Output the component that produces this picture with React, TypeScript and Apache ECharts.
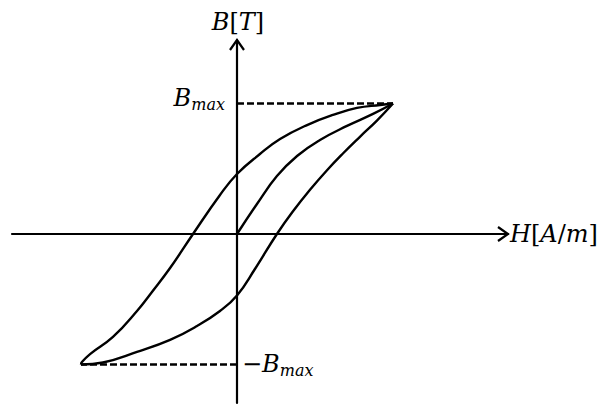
import React, { useEffect, useRef } from "react";
import * as echarts from "echarts";

// Magnetisation curves: H normalised to its peak value, B normalised to Bmax
const initialH = [0, 0.128, 0.256, 0.385, 0.532, 0.705, 0.872, 1];
const initialB = [0, 0.23, 0.444, 0.598, 0.72, 0.828, 0.92, 1];

const descendingH = [1, 0.917, 0.769, 0.615, 0.449, 0.276, 0.147, 0, -0.109, -0.282, -0.429, -0.545, -0.641, -0.795, -0.942, -0.994, -1];
const descendingB = [1, 0.989, 0.966, 0.912, 0.835, 0.728, 0.613, 0.46, 0.299, 0, -0.261, -0.444, -0.59, -0.789, -0.92, -0.981, -1];

const ascendingH = [-1, -0.859, -0.641, -0.429, -0.256, -0.109, 0, 0.115, 0.256, 0.359, 0.468, 0.577, 0.679, 0.788, 0.897, 1];
const ascendingB = [-1, -0.985, -0.904, -0.812, -0.705, -0.59, -0.471, -0.268, 0, 0.174, 0.339, 0.489, 0.617, 0.745, 0.869, 1];

// Saturation levels (+Bmax / -Bmax) reached at the loop tips
const tipH = [1, -1];
const tipB = [1, -1];

// Visible extent of the two axes
const hAxisRange = [-1.4423, 1.7372];
const bAxisRange = [-1.295, 1.4866];

// Axis titles and level labels
const hTitle = "{i|H}{r|[}{i|A}{r|/}{i|m}{r|]}";
const bTitle = "{i|B}{r|[}{i|T}{r|]}";
const levelSymbol = "B";
const levelSub = "max";
const minusSign = "\u2212";

const FONT = "'DejaVu Serif', 'Liberation Serif', serif";
const MAIN_SIZE = 24;
const SUB_SIZE = 16;

const zip = (xs: number[], ys: number[]) => xs.map((x, i) => [x, ys[i]]);

const measure = (text: string, italic: boolean, size: number) => {
  const ctx = document.createElement("canvas").getContext("2d");
  if (!ctx) return text.length * size * 0.6;
  ctx.font = `${italic ? "italic " : ""}${size}px ${FONT}`;
  return ctx.measureText(text).width;
};

const richStyles = {
  i: { fontFamily: FONT, fontStyle: "italic", fontSize: MAIN_SIZE, fill: "#000", lineHeight: 28 },
  r: { fontFamily: FONT, fontStyle: "normal", fontSize: MAIN_SIZE, fill: "#000", lineHeight: 28 },
};

export default function App() {
  const ref = useRef<HTMLDivElement>(null);

  useEffect(() => {
    document.body.style.margin = "0";
    if (!ref.current) return;
    const chart = echarts.init(ref.current, undefined, { renderer: "svg" });

    const curve = (name: string, xs: number[], ys: number[]) => ({
      name,
      type: "line",
      data: zip(xs, ys),
      showSymbol: false,
      smooth: 0.45,
      lineStyle: { color: "#000", width: 2.4 },
      z: 3,
    });

    const level = (name: string, h: number, b: number) => ({
      name,
      type: "line",
      data: [
        [0, b],
        [h, b],
      ],
      showSymbol: false,
      lineStyle: { color: "#000", width: 2.3, type: [7, 3] },
      z: 2,
    });

    const axisCommon = {
      type: "value",
      axisLine: { show: true, onZero: true, lineStyle: { color: "#000", width: 2.2 } },
      axisTick: { show: false },
      axisLabel: { show: false },
      splitLine: { show: false },
    };

    chart.setOption({
      animation: false,
      backgroundColor: "#fff",
      grid: { left: 12, right: 92, top: 40, bottom: 3, containLabel: false },
      xAxis: { ...axisCommon, min: hAxisRange[0], max: hAxisRange[1] },
      yAxis: { ...axisCommon, min: bAxisRange[0], max: bAxisRange[1] },
      series: [
        level("+Bmax", tipH[0], tipB[0]),
        level("-Bmax", tipH[1], tipB[1]),
        curve("initial", initialH, initialB),
        curve("descending", descendingH, descendingB),
        curve("ascending", ascendingH, ascendingB),
      ],
    });

    const px = (p: number[]) => chart.convertToPixel({ gridIndex: 0 }, p) as number[];
    const [ox, oy] = px([0, 0]);
    const [xEnd] = px([hAxisRange[1], 0]);
    const [, yEnd] = px([0, bAxisRange[1]]);
    const [, yPos] = px([0, tipB[0]]);
    const [, yNeg] = px([0, tipB[1]]);

    const arrowStyle = { stroke: "#000", lineWidth: 2.2, fill: "none", lineJoin: "miter" };
    const subW = measure(levelSub, true, SUB_SIZE);
    const minusW = measure(minusSign, false, MAIN_SIZE);
    const bW = measure(levelSymbol, true, MAIN_SIZE);

    const txt = (text: string, x: number, y: number, align: string, italic: boolean, size: number) => ({
      type: "text",
      x,
      y,
      z: 10,
      style: {
        text,
        fill: "#000",
        font: `${italic ? "italic " : ""}${size}px ${FONT}`,
        align,
        verticalAlign: "middle",
        textAlign: align,
        textVerticalAlign: "middle",
      },
    });

    const richTxt = (text: string, x: number, y: number, align: string) => ({
      type: "text",
      x,
      y,
      z: 10,
      style: {
        text,
        rich: richStyles,
        align,
        verticalAlign: "middle",
        textAlign: align,
        textVerticalAlign: "middle",
      },
    });

    chart.setOption({
      graphic: [
        { type: "polyline", z: 10, shape: { points: [[xEnd - 10, oy - 7], [xEnd, oy], [xEnd - 10, oy + 7]] }, style: arrowStyle },
        { type: "polyline", z: 10, shape: { points: [[ox - 7, yEnd + 10], [ox, yEnd], [ox + 7, yEnd + 10]] }, style: arrowStyle },
        richTxt(bTitle, ox + 1, 22, "center"),
        richTxt(hTitle, xEnd + 2, oy, "left"),
        // +Bmax, left of the B axis
        txt(levelSub, ox - 12, yPos + 1, "right", true, SUB_SIZE),
        txt(levelSymbol, ox - 12 - subW, yPos - 6, "right", true, MAIN_SIZE),
        // -Bmax, right of the B axis
        txt(minusSign, ox + 5, yNeg - 1, "left", false, MAIN_SIZE),
        txt(levelSymbol, ox + 5 + minusW, yNeg - 1, "left", true, MAIN_SIZE),
        txt(levelSub, ox + 5 + minusW + bW, yNeg + 6, "left", true, SUB_SIZE),
      ],
    });

    return () => chart.dispose();
  }, []);

  return <div ref={ref} style={{ width: 600, height: 406 }} />;
}
